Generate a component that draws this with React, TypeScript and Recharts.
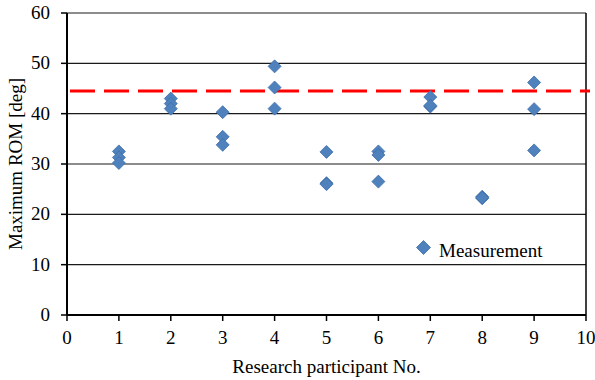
import { ScatterChart, Scatter, XAxis, YAxis, CartesianGrid, ReferenceLine, Legend } from 'recharts';

// participant numbers and the three measured values for each one
const participants = [1, 2, 3, 4, 5, 6, 7, 8, 9];
const trial1 = [32.5, 43.0, 40.3, 49.4, 32.4, 32.5, 43.3, 23.5, 46.2];
const trial2 = [31.3, 42.0, 35.4, 45.2, 26.2, 31.8, 41.4, 23.2, 40.9];
const trial3 = [30.2, 41.0, 33.8, 41.0, 26.0, 26.5, 41.6, 23.3, 32.7];
const threshold = 44.5;

const xTicks = [0, 1, 2, 3, 4, 5, 6, 7, 8, 9, 10];
const yTicks = [0, 10, 20, 30, 40, 50, 60];

const measurements = participants.flatMap((p, i) => [
  { x: p, y: trial1[i] },
  { x: p, y: trial2[i] },
  { x: p, y: trial3[i] },
]);

const FONT = "'Liberation Serif', 'Times New Roman', serif";
const FS = 19;
const BLUE = '#4f81bd';
const BLUE_EDGE = '#3f6fa8';

function Diamond(props: any) {
  const { cx, cy } = props;
  const r = props.r ?? 6.5;
  return (
    <path
      d={`M${cx},${cy - r} L${cx + r},${cy} L${cx},${cy + r} L${cx - r},${cy} Z`}
      fill={BLUE}
      stroke={BLUE_EDGE}
      strokeWidth={0.8}
    />
  );
}

function XTick(props: any) {
  const { x, y, payload } = props;
  return (
    <text x={x} y={y + 13} textAnchor="middle" style={{ fontFamily: FONT, fontSize: FS }} fill="#000">
      {payload.value}
    </text>
  );
}

function YTick(props: any) {
  const { x, y, payload } = props;
  return (
    <text x={x} y={y + 6} textAnchor="end" style={{ fontFamily: FONT, fontSize: FS }} fill="#000">
      {payload.value}
    </text>
  );
}

function MeasurementLegend() {
  return (
    <svg width={150} height={24} style={{ display: 'block', overflow: 'visible' }}>
      <Diamond cx={8.5} cy={7.5} r={7} />
      <text x={24} y={17} style={{ fontFamily: FONT, fontSize: FS }} fill="#000">Measurement</text>
    </svg>
  );
}

export default function App() {
  return (
    <div style={{ position: 'absolute', left: 0, top: 0, background: '#fff' }}>
      <ScatterChart width={595} height={380} margin={{ top: 13, right: 9, left: 0, bottom: 0 }}>
        <CartesianGrid horizontal vertical={false} stroke="#1a1a1a" strokeWidth={1.2} />
        <XAxis
          type="number"
          dataKey="x"
          domain={[0, 10]}
          ticks={xTicks}
          interval={0}
          height={65}
          axisLine={{ stroke: '#000', strokeWidth: 2 }}
          tickLine={{ stroke: '#000', strokeWidth: 1.5 }}
          tickSize={6}
          tickMargin={10}
          tick={<XTick />}
          label={{ value: 'Research participant No.', position: 'insideBottom', offset: 7, fill: '#000', style: { fontFamily: FONT, fontSize: FS } }}
        />
        <YAxis
          type="number"
          dataKey="y"
          domain={[0, 60]}
          ticks={yTicks}
          interval={0}
          width={67}
          axisLine={{ stroke: '#000', strokeWidth: 2 }}
          tickLine={{ stroke: '#000', strokeWidth: 1.5 }}
          tickSize={6}
          tickMargin={11}
          tick={<YTick />}
          label={{ value: 'Maximum ROM [deg]', angle: -90, position: 'insideLeft', offset: 15, fill: '#000', style: { fontFamily: FONT, fontSize: FS, textAnchor: 'middle' } }}
        />
        <ReferenceLine x={10} stroke="#000" strokeWidth={1.5} />
        <ReferenceLine
          segment={[{ x: 0, y: threshold }, { x: 10.077, y: threshold }]}
          ifOverflow="visible"
          stroke="#ff0000"
          strokeWidth={3}
          strokeDasharray="25 9"
          strokeDashoffset={31}
        />
        <Scatter name="Measurement" data={measurements} shape={<Diamond />} isAnimationActive={false} />
        <Legend
          layout="horizontal"
          verticalAlign="middle"
          align="center"
          content={<MeasurementLegend />}
          wrapperStyle={{ left: 415, top: 240, width: 'auto' }}
        />
      </ScatterChart>
    </div>
  );
}
